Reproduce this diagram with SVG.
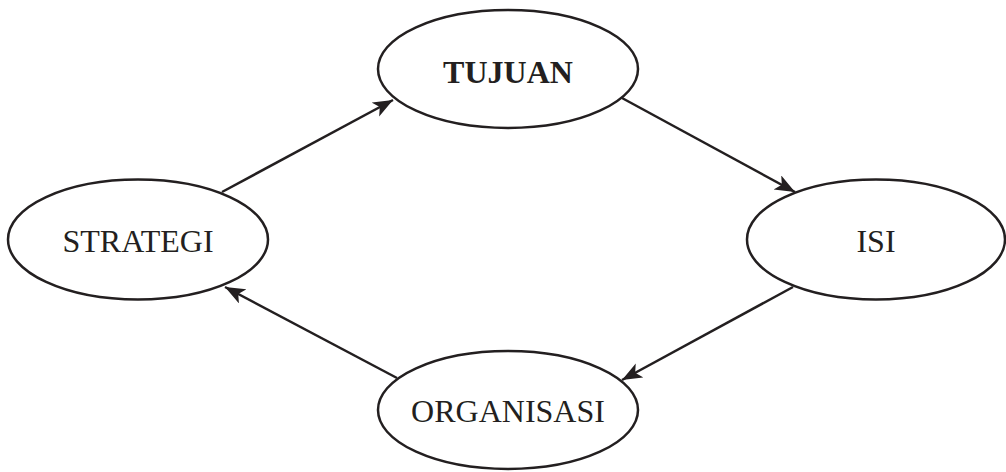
<svg xmlns="http://www.w3.org/2000/svg" width="1006" height="472" viewBox="0 0 1006 472">
<style>
.node ellipse{fill:#fff;stroke:#231f20;stroke-width:2.5}
.node text{font-family:"Liberation Serif",serif;font-size:32px;fill:#231f20;text-anchor:middle}
.edge{stroke:#231f20;stroke-width:2.5;fill:none;marker-end:url(#ah)}
</style>
<defs>
<marker id="ah" markerUnits="userSpaceOnUse" markerWidth="22" markerHeight="18" refX="20" refY="8" orient="auto">
<path d="M0,0 L20,8 L0,16 L5,8 Z" fill="#231f20"/>
</marker>
</defs>
<rect width="1006" height="472" fill="#fff"/>
<g id="connectors">
<line class="edge" x1="222" y1="192" x2="393" y2="100"/>
<line class="edge" x1="622" y1="98" x2="795" y2="192"/>
<line class="edge" x1="793" y1="287" x2="622" y2="380"/>
<line class="edge" x1="397" y1="378" x2="225" y2="287"/>
</g>
<g id="tujuan" class="node">
<ellipse cx="508" cy="69" rx="130" ry="59"/>
<text x="508" y="83" font-weight="bold">TUJUAN</text>
</g>
<g id="strategi" class="node">
<ellipse cx="138" cy="239.5" rx="130" ry="60"/>
<text x="138" y="252">STRATEGI</text>
</g>
<g id="isi" class="node">
<ellipse cx="876" cy="239.5" rx="129" ry="60"/>
<text x="876" y="252">ISI</text>
</g>
<g id="organisasi" class="node">
<ellipse cx="508" cy="410" rx="130" ry="59"/>
<text x="508" y="422">ORGANISASI</text>
</g>
</svg>
